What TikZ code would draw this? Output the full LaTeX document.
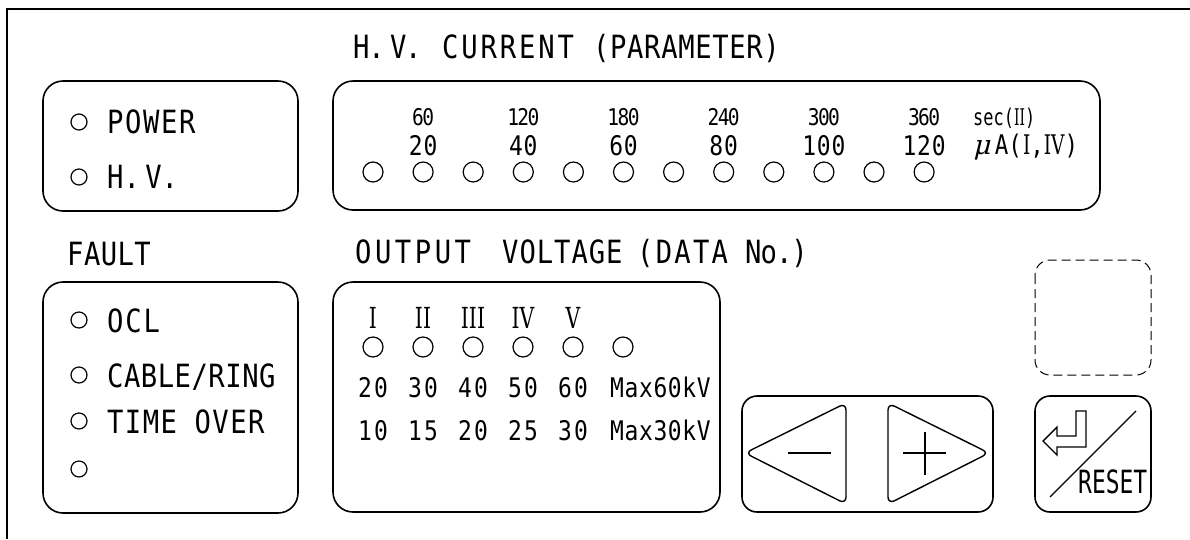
\documentclass[tikz,border=0pt]{standalone}
\usepackage{fontspec}
\setmainfont{DejaVu Sans Mono}[FakeStretch=0.85]
\newfontfamily\romfont{DejaVu Serif}[FakeStretch=0.7]
\newfontfamily\grkfont{DejaVu Serif}[FakeSlant=0.25]
\newcommand{\fw}[2]{\resizebox{#1pt}{\height}{#2}}
\newcommand{\ls}[2]{{\addfontfeature{LetterSpace=#1}#2}}
\begin{document}
\begin{tikzpicture}[x=1pt,y=-1pt,
  frame/.style={line width=2pt},
  panel/.style={draw, line width=1.6pt, rounded corners=20pt},
  key/.style={draw, line width=1.6pt, rounded corners=15pt},
  lamp/.style={draw, circle, line width=1.2pt, minimum size=20pt, inner sep=0pt},
  slamp/.style={draw, circle, line width=1.2pt, minimum size=16pt, inner sep=0pt},
  big/.style={font=\fontsize{32}{32}\selectfont, inner sep=0pt, anchor=base west},
  num/.style={font=\fontsize{27}{27}\selectfont, inner sep=0pt, anchor=base},
  numw/.style={font=\fontsize{27}{27}\selectfont, inner sep=0pt, anchor=base west},
  small/.style={font=\fontsize{23}{23}\selectfont, inner sep=0pt, anchor=base},
  roman/.style={font=\romfont\fontsize{29}{29}\selectfont, inner sep=0pt, anchor=base},
  sym/.style={line width=1.4pt, line join=round},
]
\useasboundingbox (0,0) rectangle (1190,539);
% outer frame
\draw[frame] (7,539) -- (7,9) -- (1190,9);

% ---- POWER / H.V. panel
\draw[panel] (43,81) rectangle (298,211);
\node[slamp] (lpw) at (79,122) {};
\node[big] (tpw) at (107,133.5) {\ls{5}{POWER}};
\node[slamp] (lhv) at (79,177) {};
\node[big] (thv) at (107,188.5) {\ls{0}{H.\,V.}};

% ---- H.V. CURRENT panel
\node[big] (thvc1) at (353,58) {\ls{-4}{H.\,V.}};
\node[big] (thvc2) at (442,58) {\ls{9}{CURRENT}};
\node[big] (thvc3) at (593,58) {\ls{2}{(PARAMETER)}};
\draw[panel] (333,81) rectangle (1100,210);
\foreach \i in {1,...,12}
  \node[lamp] (hv\i) at ({373+50.1*(\i-1)},172) {};
\foreach \i/\a/\b in {2/20/60,4/40/120,6/60/180,8/80/240,10/100/300,12/120/360} {
  \node[num] (hva\i) at ({373+50.1*(\i-1)},155) {\ls{3}{\a}};
  \node[small] (hvb\i) at ({373+50.1*(\i-1)},125) {\ls{-7}{\b}};
}
\node[small, anchor=base west] (tsec) at (973,125) {\fw{62}{sec({\romfont II})}};
\node[numw] (tua) at (973,154) {\fw{105}{{\grkfont μ}\,A(\hspace{1pt}{\romfont I},{\romfont IV})}};

% ---- FAULT panel
\node[big] (tfault) at (67,265) {\ls{1.4}{FAULT}};
\draw[panel] (43,282) rectangle (298,513);
\node[slamp] (lf1) at (79,320) {};
\node[big] (tf1) at (107,332) {\ls{5.6}{OCL}};
\node[slamp] (lf2) at (79,375) {};
\node[big] (tf2) at (107,387) {\ls{1.6}{CABLE/RING}};
\node[slamp] (lf3) at (79,421) {};
\node[big] (tf3) at (107,433) {\ls{4.4}{TIME OVER}};
\node[slamp] (lf4) at (79,469) {};

% ---- OUTPUT VOLTAGE panel
\node[big] (tout1) at (355,263) {\ls{11}{OUTPUT}};
\node[big] (tout2) at (502,263) {\ls{3}{VOLTAGE}};
\node[big] (tout3) at (637,263) {\ls{7}{(DATA}};
\node[big] (tout4) at (745,263) {\ls{-3}{No.)}};
\draw[panel] (333,282) rectangle (720,512);
\foreach \i in {1,...,6}
  \node[lamp] (ov\i) at ({373+50*(\i-1)},347) {};
\foreach \i/\r/\a/\b in {1/I/20/10,2/II/30/15,3/III/40/20,4/IV/50/25,5/V/60/30} {
  \node[roman] (ovr\i) at ({373+50*(\i-1)},328) {\r};
  \node[num] (ova\i) at ({373+50*(\i-1)},397) {\ls{8}{\a}};
  \node[num] (ovb\i) at ({373+50*(\i-1)},440) {\ls{8}{\b}};
}
\node[numw] (tmax60) at (610,397) {\ls{2.3}{Max60kV}};
\node[numw] (tmax30) at (610,440) {\ls{2.3}{Max30kV}};

% ---- arrow keys
\draw[key] (742,396) rectangle (993,512);
\draw[sym, rounded corners=7pt] (846,403) -- (846,504) -- (745,453) -- cycle;
\draw[sym] (788,453) -- (831,453);
\draw[sym, rounded corners=7pt] (888,403) -- (888,504) -- (989,453) -- cycle;
\draw[sym] (903,453) -- (946,453);
\draw[sym] (925,432) -- (925,475);

% ---- dashed empty key
\draw[line width=1pt, rounded corners=15pt, dash pattern=on 9pt off 5pt] (1035,260) rectangle (1151,375);

% ---- enter / reset key
\draw[key] (1035,396) rectangle (1151,512);
\draw[line width=1.2pt] (1050,497) -- (1136,411);
\draw[sym, line join=miter] (1043,441) -- (1057,427) -- (1057,436) -- (1076,436) -- (1076,411)
  -- (1086,411) -- (1086,447) -- (1057,447) -- (1057,455) -- cycle;
\node[big] (treset) at (1078,493) {\fw{69}{RESET}};
\end{tikzpicture}
\end{document}
